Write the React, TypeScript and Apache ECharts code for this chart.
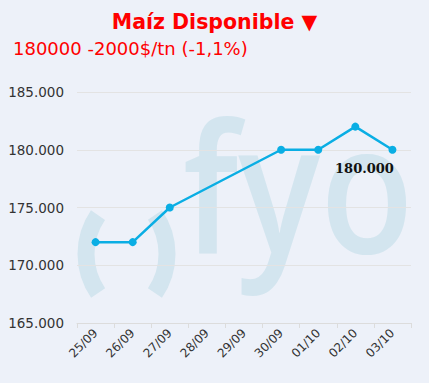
import React, { useEffect, useRef } from "react";
import * as echarts from "echarts";

const categories = ["25/09", "26/09", "27/09", "28/09", "29/09", "30/09", "01/10", "02/10", "03/10"];
const values: (number | null)[] = [172000, 172000, 175000, null, null, 180000, 180000, 182000, 180000];
const titleText = "Maíz Disponible ▼";
const subtitleText = "180000 -2000$/tn (-1,1%)";
const lastLabel = "180.000";
const yMin = 165000;
const yMax = 185000;
const yInterval = 5000;

const fmt = (v: number) => {
  const s = Math.round(v).toString();
  return s.replace(/\B(?=(\d{3})+(?!\d))/g, ".");
};

export default function App() {
  const ref = useRef<HTMLDivElement>(null);
  useEffect(() => {
    if (!ref.current) return;
    const chart = echarts.init(ref.current, undefined, { renderer: "svg" });
    const wm = "#d3e5ef";
    const seriesData = values.map((v, i) =>
      i === values.length - 1
        ? {
            value: v,
            label: {
              show: true,
              position: "bottom",
              offset: [-28, 3],
              formatter: lastLabel,
              fontFamily: "DejaVu Serif",
              fontWeight: "bold",
              fontSize: 13,
              color: "#111",
            },
          }
        : v
    );
    chart.setOption({
      animation: false,
      backgroundColor: "#edf1f9",
      title: [
        {
          text: titleText,
          left: "center",
          top: 6,
          textStyle: { color: "#ff0000", fontSize: 20.5, fontWeight: "bold", fontFamily: "DejaVu Sans" },
        },
        {
          text: subtitleText,
          left: 8,
          top: 34,
          textStyle: { color: "#ff0000", fontSize: 18, fontWeight: "normal", fontFamily: "DejaVu Sans" },
        },
      ],
      graphic: [
        {
          type: "arc",
          silent: true,
          z: -10,
          shape: { cx: 155, cy: 254, r: 69, startAngle: 2.54, endAngle: 3.74, clockwise: true },
          style: { stroke: wm, fill: null, lineWidth: 17, lineCap: "butt" },
        },
        {
          type: "arc",
          silent: true,
          z: -10,
          shape: { cx: 98, cy: 254, r: 69, startAngle: -0.6, endAngle: 0.6, clockwise: true },
          style: { stroke: wm, fill: null, lineWidth: 17, lineCap: "butt" },
        },
        {
          type: "text",
          silent: true,
          z: -10,
          x: 183,
          y: 93,
          scaleX: 0.85,
          style: {
            text: "fyo",
            fill: wm,
            fontSize: 180,
            fontWeight: 600,
            fontFamily: "Open Sans",
            verticalAlign: "top",
            align: "left",
          },
        },
      ],
      grid: { left: 77, right: 18, top: 92, bottom: 60, containLabel: false },
      xAxis: {
        type: "category",
        data: categories,
        boundaryGap: true,
        axisLine: { lineStyle: { color: "#dcdcdc" } },
        axisTick: { show: true, lineStyle: { color: "#dcdcdc" }, length: 5 },
        axisLabel: { rotate: 45, color: "#333", fontSize: 12, fontFamily: "DejaVu Sans", margin: 8 },
      },
      yAxis: {
        type: "value",
        min: yMin,
        max: yMax,
        interval: yInterval,
        axisLine: { show: false },
        axisTick: { show: false },
        splitLine: { lineStyle: { color: "#e3e3e3" } },
        axisLabel: { formatter: fmt, color: "#333", fontSize: 13.5, fontFamily: "DejaVu Sans", margin: 13 },
      },
      series: [
        {
          type: "line",
          data: seriesData,
          connectNulls: true,
          symbol: "circle",
          symbolSize: 8,
          lineStyle: { color: "#0aaee4", width: 2.5 },
          itemStyle: { color: "#0aaee4" },
          z: 5,
        },
      ],
    });
    return () => chart.dispose();
  }, []);
  return <div ref={ref} style={{ position: "fixed", left: 0, top: 0, width: 429, height: 383 }} />;
}
